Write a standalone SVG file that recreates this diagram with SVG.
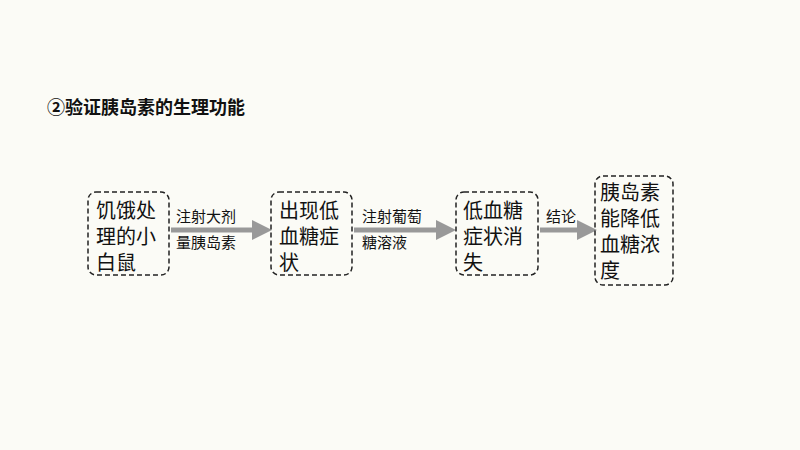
<svg xmlns="http://www.w3.org/2000/svg" width="800" height="450" viewBox="0 0 800 450">
<style>
.b{fill:none;stroke:#222;stroke-width:1.5;stroke-dasharray:5,3}
.t{font-family:"Noto Sans CJK SC",sans-serif;font-size:20px;fill:#111}
.l{font-family:"Noto Sans CJK SC",sans-serif;font-size:15px;fill:#111}
.a{stroke:#999;stroke-width:5;fill:none;marker-end:url(#m)}
</style>
<defs><marker id="m" markerWidth="4" markerHeight="4" refX="2" refY="2" orient="auto"><path d="M0,0L4,2L0,4z" fill="#999"/></marker></defs>
<rect width="800" height="450" fill="#fbfbf6"/>
<text x="47" y="114" font-family="Noto Sans CJK SC,sans-serif" font-size="18" font-weight="bold" fill="#111">②验证胰岛素的生理功能</text>
<g id="connectors">
<line class="a" x1="171" y1="230" x2="262" y2="230"/>
<line class="a" x1="354" y1="230" x2="446" y2="230"/>
<line class="a" x1="540" y1="230" x2="587" y2="230"/>
<text class="l" x="176" y="222">注射大剂</text><text class="l" x="176" y="248">量胰岛素</text>
<text class="l" x="362" y="222">注射葡萄</text><text class="l" x="362" y="248">糖溶液</text>
<text class="l" x="546" y="222">结论</text>
</g>
<g id="n1"><rect class="b" x="88" y="192" width="81" height="83" rx="8"/>
<text class="t" x="96" y="218">饥饿处</text><text class="t" x="96" y="244">理的小</text><text class="t" x="96" y="270">白鼠</text></g>
<g id="n2"><rect class="b" x="271" y="192" width="81" height="83" rx="8"/>
<text class="t" x="279" y="218">出现低</text><text class="t" x="279" y="244">血糖症</text><text class="t" x="279" y="270">状</text></g>
<g id="n3"><rect class="b" x="456" y="192" width="82" height="83" rx="8"/>
<text class="t" x="463" y="218">低血糖</text><text class="t" x="463" y="244">症状消</text><text class="t" x="463" y="270">失</text></g>
<g id="n4"><rect class="b" x="595" y="176" width="78" height="109" rx="8"/>
<text class="t" x="600" y="200">胰岛素</text><text class="t" x="600" y="226">能降低</text><text class="t" x="600" y="252">血糖浓</text><text class="t" x="600" y="278">度</text></g>
</svg>
